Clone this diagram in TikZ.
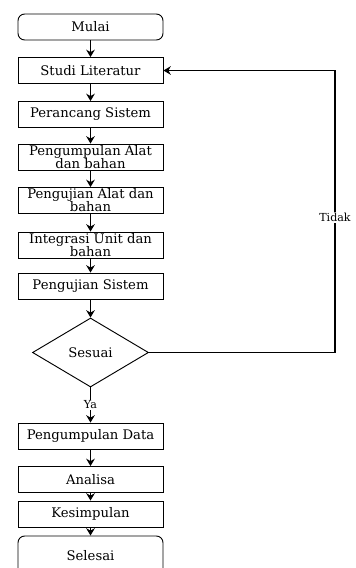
\documentclass[tikz,border=0pt]{standalone}
\usepackage{fontspec}
\setmainfont{DejaVu Serif}
\usetikzlibrary{shapes.geometric,arrows.meta}

\tikzset{
  langkah/.style={draw, line width=0.7pt, minimum width=108.75pt, minimum height=19.5pt,
    inner sep=0pt, align=center},
  ujung/.style={langkah, rounded corners=5pt},
  putusan/.style={draw, line width=0.7pt, diamond, aspect=1.68, minimum width=87pt,
    minimum height=51.75pt, inner sep=0pt},
  panah/.style={-{Stealth[length=5.5pt,width=6.5pt]}, line width=0.9pt},
  ket/.style={fill=white, inner sep=1pt, font=\fontsize{8.3}{9}\selectfont}
}

\begin{document}
\begin{tikzpicture}[x=0.75pt,y=-0.75pt,every node/.style={font=\fontsize{9.9}{9.8}\selectfont}]
\clip (0,0) rectangle (355,568);
\node[ujung] (mulai) at (90.5,27) {Mulai};
\node[langkah] (studi) at (90.5,70.5) {Studi Literatur};
\node[langkah] (rancang) at (90.5,114.5) {Perancang Sistem};
\node[langkah] (alat) at (90.5,157) {Pengumpulan Alat\\dan bahan};
\node[langkah] (ujialat) at (90.5,200.5) {Pengujian Alat dan\\bahan};
\node[langkah] (integrasi) at (90.5,245) {Integrasi Unit dan\\bahan};
\node[langkah] (ujisistem) at (90.5,286) {Pengujian Sistem};
\node[putusan] (sesuai) at (90.5,352.5) {Sesuai};
\node[langkah] (data) at (90.5,436) {Pengumpulan Data};
\node[langkah] (analisa) at (90.5,479.5) {Analisa};
\node[langkah] (simpul) at (90.5,514) {Kesimpulan};
\node[ujung, minimum height=30pt] (selesai) at (90.5,556) {Selesai};
\coordinate (balik) at (335,352.5);
\coordinate (atas) at (335,70.5);
% alur utama
\draw[panah] (mulai) -- (studi);
\draw[panah] (studi) -- (rancang);
\draw[panah] (rancang) -- (alat);
\draw[panah] (alat) -- (ujialat);
\draw[panah] (ujialat) -- (integrasi);
\draw[panah] (integrasi) -- (ujisistem);
\draw[panah] (ujisistem) -- (sesuai);
\draw[panah] (sesuai) -- node[ket] {Ya} (data);
\draw[panah] (data) -- (analisa);
\draw[panah] (analisa) -- (simpul);
\draw[panah] (simpul) -- (selesai);
% kembali
\draw[panah] (sesuai.east) -- (balik) -- node[ket, pos=0.48] {Tidak} (atas) -- (studi.east);
\end{tikzpicture}
\end{document}
